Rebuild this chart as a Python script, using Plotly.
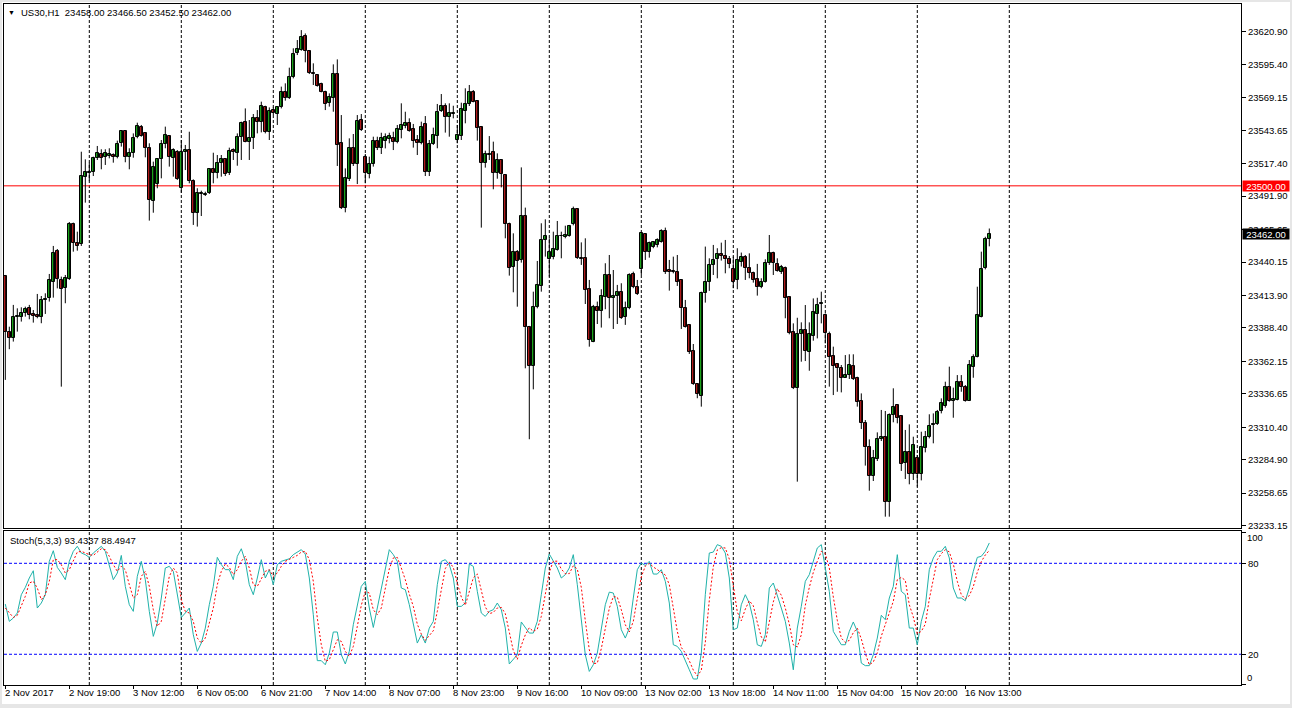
import plotly.graph_objects as go

# ---------------- data ----------------
opens = [
23429.5,23385.0,23380.8,23397.3,23396.8,23399.9,23403.8,23399.4,23398.6,23397.3,
23410.1,23411.7,23424.8,23448.9,23426.1,23419.5,23426.9,23470.0,23455.4,23454.1,
23506.7,23509.8,23510.6,23522.1,23525.0,23522.4,23523.7,23524.2,23522.9,23533.4,
23543.1,23522.9,23525.5,23538.1,23546.5,23541.2,23529.5,23488.4,23501.2,23520.8,
23532.9,23539.1,23521.6,23526.6,23498.6,23526.3,23528.1,23504.1,23478.4,23493.3,
23493.1,23494.1,23513.0,23509.8,23517.7,23520.8,23509.8,23528.1,23526.0,23538.1,
23549.9,23534.2,23537.3,23553.0,23549.9,23561.6,23542.5,23559.5,23556.4,23561.6,
23573.4,23568.7,23585.2,23604.0,23606.6,23617.6,23606.1,23588.9,23587.0,23579.7,
23573.9,23564.8,23569.2,23587.8,23533.4,23482.9,23505.1,23529.4,23516.9,23551.7,
23522.9,23509.3,23517.1,23535.5,23529.4,23535.5,23536.5,23537.3,23534.7,23543.8,
23547.2,23549.1,23544.4,23536.0,23533.4,23548.3,23511.1,23532.9,23539.4,23558.8,
23562.7,23553.8,23556.1,23536.0,23539.1,23559.0,23564.0,23573.4,23566.6,23545.9,
23517.7,23524.2,23526.3,23510.3,23520.3,23508.5,23470.0,23436.5,23448.3,23441.8,
23476.3,23388.9,23358.6,23404.6,23421.6,23457.5,23442.3,23444.4,23449.6,23460.3,
23460.1,23460.6,23469.8,23481.6,23443.1,23443.1,23418.8,23377.7,23404.6,23402.0,
23413.0,23430.0,23411.7,23413.8,23416.4,23397.3,23403.8,23430.8,23420.9,23434.5,
23461.9,23447.8,23452.3,23453.6,23456.2,23464.6,23433.9,23432.6,23432.6,23426.1,
23403.8,23390.8,23370.4,23344.4,23335.3,23415.6,23424.3,23437.9,23442.3,23446.5,
23444.9,23442.3,23434.7,23426.1,23440.5,23443.9,23435.3,23431.3,23426.6,23420.3,
23424.8,23439.2,23447.0,23438.7,23432.6,23435.8,23412.4,23384.9,23341.5,23383.9,
23386.5,23369.8,23382.3,23399.6,23407.4,23398.5,23383.6,23366.4,23359.8,23356.7,
23349.3,23351.4,23358.5,23348.8,23331.0,23313.5,23295.2,23272.4,23285.2,23300.9,
23302.8,23252.0,23320.0,23327.6,23319.0,23282.6,23290.7,23273.4,23286.0,23273.4,
23294.4,23302.8,23312.4,23312.7,23323.4,23327.4,23341.8,23331.3,23332.1,23345.7,
23342.3,23331.3,23358.0,23365.8,23397.2,23435.2,23458.0]

highs = [
23430.0,23389.4,23406.5,23403.8,23404.6,23405.1,23406.5,23402.5,23415.1,23413.5,
23415.6,23430.8,23452.8,23450.4,23428.7,23430.0,23471.6,23471.1,23464.0,23526.8,
23520.8,23518.2,23522.9,23531.3,23528.7,23528.7,23529.5,23525.5,23535.5,23543.8,
23543.8,23529.5,23541.2,23549.6,23547.8,23541.8,23533.4,23519.0,23521.6,23536.0,
23546.5,23539.9,23529.5,23528.1,23536.0,23532.1,23542.5,23505.1,23498.1,23496.2,
23495.4,23513.2,23526.0,23524.2,23524.2,23521.6,23530.0,23529.4,23541.2,23550.4,
23560.8,23551.7,23556.4,23559.5,23566.1,23562.9,23561.6,23561.6,23562.7,23577.9,
23580.5,23592.8,23608.0,23614.5,23622.3,23619.7,23606.6,23596.2,23587.8,23581.0,
23574.7,23572.6,23595.4,23599.3,23555.6,23513.7,23537.3,23540.7,23555.6,23556.4,
23525.0,23522.9,23538.6,23538.6,23541.7,23541.2,23541.7,23542.5,23547.8,23564.8,
23558.2,23553.0,23548.6,23539.9,23550.4,23554.8,23536.0,23545.7,23564.3,23572.1,
23564.8,23564.8,23562.9,23547.8,23565.3,23576.6,23579.2,23575.2,23567.4,23547.0,
23527.6,23539.1,23534.7,23525.5,23520.8,23509.3,23471.1,23462.7,23449.6,23514.5,
23482.9,23390.0,23416.9,23441.0,23470.6,23473.7,23458.8,23464.0,23472.4,23464.0,
23468.7,23469.3,23483.7,23482.4,23455.6,23458.8,23426.1,23406.5,23409.1,23418.8,
23439.2,23445.7,23433.9,23422.2,23423.5,23409.1,23431.3,23432.6,23426.1,23462.9,
23462.7,23456.2,23456.2,23458.8,23465.9,23467.2,23441.8,23444.4,23445.7,23426.6,
23410.4,23391.5,23375.8,23345.0,23416.9,23452.3,23443.1,23453.6,23451.0,23455.4,
23457.5,23444.9,23444.4,23451.0,23447.6,23445.7,23447.0,23432.6,23438.7,23427.4,
23442.3,23461.4,23448.3,23443.1,23437.9,23436.6,23412.9,23392.0,23396.4,23392.8,
23406.4,23392.8,23411.6,23412.1,23416.9,23399.8,23385.5,23373.7,23360.6,23359.3,
23367.1,23367.7,23367.7,23350.1,23337.0,23316.1,23300.9,23292.6,23306.4,23324.0,
23323.2,23321.3,23341.0,23327.9,23320.0,23308.3,23312.7,23303.0,23288.6,23306.9,
23307.5,23320.6,23321.3,23324.0,23333.1,23346.2,23358.0,23341.5,23351.4,23351.4,
23343.6,23363.2,23367.7,23420.8,23448.3,23460.0,23466.5]

lows = [
23347.6,23371.7,23377.7,23385.5,23393.4,23397.3,23395.2,23392.6,23396.0,23392.1,
23399.4,23409.1,23412.2,23419.5,23342.3,23407.8,23426.1,23448.3,23449.1,23452.8,
23486.8,23504.1,23507.7,23520.3,23513.0,23516.4,23521.6,23518.2,23521.6,23530.8,
23518.5,23513.0,23522.1,23537.3,23538.6,23522.4,23472.7,23478.9,23498.1,23505.9,
23529.5,23515.1,23507.2,23504.6,23494.6,23512.4,23502.0,23469.3,23468.0,23476.3,
23492.0,23493.6,23502.0,23505.9,23507.2,23507.7,23508.5,23520.3,23515.8,23520.3,
23534.2,23520.3,23528.9,23541.2,23542.0,23541.2,23536.0,23555.6,23547.8,23560.8,
23566.9,23568.2,23584.4,23602.7,23606.1,23597.0,23587.8,23579.2,23577.9,23573.4,
23559.5,23562.2,23558.2,23515.6,23481.8,23479.2,23503.8,23515.6,23501.4,23543.1,
23502.0,23505.9,23515.1,23528.1,23525.0,23529.4,23533.4,23528.1,23533.4,23537.3,
23545.2,23542.5,23530.0,23524.2,23532.6,23507.7,23507.7,23532.1,23529.5,23558.0,
23541.8,23538.6,23553.0,23533.4,23536.0,23549.1,23562.7,23565.6,23535.5,23467.2,
23514.3,23520.3,23497.3,23505.6,23498.8,23458.8,23429.5,23416.4,23405.1,23439.7,
23356.7,23301.0,23340.2,23403.8,23416.9,23444.4,23428.7,23442.3,23449.1,23443.1,
23458.8,23460.1,23469.0,23442.6,23437.9,23407.2,23373.7,23377.2,23391.5,23388.7,
23403.1,23396.0,23387.6,23391.5,23395.5,23390.8,23403.1,23419.6,23414.3,23430.0,
23441.8,23443.6,23451.0,23451.7,23455.4,23430.8,23417.7,23431.3,23421.4,23387.6,
23388.7,23368.0,23343.7,23333.2,23326.6,23408.3,23417.5,23430.0,23427.4,23441.3,
23431.3,23435.3,23419.6,23418.8,23436.6,23426.1,23427.4,23424.0,23413.8,23419.6,
23424.0,23437.9,23430.0,23432.6,23430.8,23396.0,23383.4,23340.4,23267.7,23361.9,
23362.4,23354.8,23378.4,23380.2,23392.0,23376.3,23342.3,23335.7,23338.3,23337.8,
23349.3,23348.3,23347.5,23326.6,23309.0,23280.3,23260.6,23268.2,23283.9,23299.6,
23240.2,23240.2,23314.3,23313.5,23276.1,23269.8,23265.6,23269.0,23263.8,23268.7,
23290.7,23301.7,23297.8,23312.2,23321.3,23325.8,23330.5,23317.9,23331.5,23338.3,
23330.5,23331.0,23349.3,23365.3,23396.7,23434.4,23452.5]

closes = [
23385.0,23380.3,23397.3,23397.8,23399.9,23403.1,23398.6,23398.1,23396.8,23410.4,
23411.2,23426.1,23447.0,23426.6,23418.8,23427.4,23470.0,23454.9,23453.0,23507.7,
23510.6,23511.1,23521.6,23526.1,23522.1,23525.8,23525.0,23522.4,23532.9,23543.1,
23522.9,23525.5,23537.3,23547.0,23539.4,23529.5,23488.9,23515.1,23520.8,23532.9,
23539.9,23522.4,23528.1,23505.4,23526.3,23528.1,23503.8,23478.4,23494.1,23494.1,
23493.6,23513.0,23509.8,23517.7,23520.8,23509.3,23527.4,23526.3,23538.1,23549.1,
23534.7,23537.3,23553.0,23549.9,23562.7,23542.5,23558.8,23556.9,23562.2,23573.4,
23568.7,23585.2,23603.5,23607.4,23616.6,23606.1,23588.9,23587.5,23578.6,23573.9,
23564.3,23569.5,23587.8,23532.1,23482.9,23505.9,23529.4,23516.9,23550.9,23543.8,
23509.8,23517.1,23535.2,23529.4,23537.3,23538.1,23539.1,23534.7,23544.4,23547.8,
23549.1,23543.3,23535.5,23533.4,23545.9,23511.1,23532.9,23539.9,23558.2,23562.7,
23554.3,23556.9,23556.9,23539.9,23560.1,23564.3,23573.4,23566.1,23545.7,23518.2,
23525.0,23525.0,23509.8,23520.3,23509.0,23469.8,23435.8,23447.8,23441.3,23476.3,
23388.9,23358.8,23404.6,23422.2,23457.2,23460.6,23447.8,23450.2,23460.6,23460.6,
23461.1,23468.5,23481.6,23443.1,23442.8,23418.2,23379.0,23404.6,23402.0,23413.5,
23430.0,23411.7,23413.5,23416.4,23396.3,23404.4,23430.0,23420.9,23415.1,23462.7,
23448.3,23454.9,23455.7,23457.5,23464.6,23432.1,23432.6,23432.3,23424.8,23403.8,
23389.5,23369.8,23344.2,23336.3,23415.6,23424.3,23437.9,23441.8,23446.2,23444.9,
23442.3,23438.4,23424.8,23441.8,23443.9,23435.3,23431.3,23426.1,23420.3,23424.3,
23439.2,23447.0,23439.2,23433.4,23436.6,23411.7,23384.1,23341.5,23383.4,23386.5,
23370.5,23383.4,23400.6,23406.4,23407.9,23384.1,23365.8,23358.8,23357.2,23349.3,
23351.4,23359.3,23348.0,23330.5,23313.5,23295.2,23272.4,23286.0,23300.9,23302.8,
23251.5,23320.0,23326.6,23317.9,23281.8,23290.7,23273.4,23296.5,23273.4,23294.9,
23302.8,23311.7,23313.0,23322.6,23329.2,23341.8,23331.3,23332.6,23345.7,23342.3,
23331.3,23359.3,23365.8,23398.5,23434.4,23457.9,23462.0]

stoch_k = [
53.1,41.7,43.9,47.2,59.3,64.1,70.3,75.1,50.5,53.8,
59.3,81.3,88.3,77.3,73.6,69.2,81.3,87.9,91.2,86.8,
85.7,83.9,86.8,89.0,91.2,87.9,78.0,69.2,73.6,85.2,
64.8,52.7,48.3,71.4,81.3,69.2,48.3,31.8,40.6,57.1,
76.9,78.0,74.7,59.3,44.3,47.2,50.5,32.9,21.9,27.4,
37.3,52.7,64.8,83.9,79.1,75.8,75.8,69.2,84.6,89.6,
81.3,65.9,59.3,70.3,82.4,70.3,75.8,65.9,79.1,81.3,
82.4,83.0,85.7,87.4,89.0,86.1,70.3,46.1,15.8,15.8,
13.1,20.8,34.7,34.7,19.7,13.6,21.9,39.5,52.7,64.8,
68.1,50.5,37.7,50.5,63.7,76.9,89.0,85.7,81.3,63.7,
62.6,52.7,39.5,27.4,32.9,27.4,37.3,41.7,65.9,81.3,
82.4,79.1,70.3,51.6,51.6,53.8,79.5,78.0,61.5,47.2,
45.0,48.3,49.4,53.8,49.4,37.3,13.6,16.4,19.7,41.3,
37.3,34.0,34.0,41.7,59.3,76.9,86.1,81.3,76.9,70.3,
72.5,76.9,85.7,65.9,40.6,19.7,8.7,13.1,20.8,37.3,
52.7,61.0,60.4,51.6,36.2,30.7,37.3,57.1,75.8,80.2,
78.6,81.3,72.9,72.9,75.8,68.1,53.8,26.3,25.2,21.9,
15.3,9.8,3.7,3.7,20.8,59.3,86.8,87.4,92.3,91.2,
86.8,70.3,36.2,37.3,52.7,59.3,53.8,42.8,26.3,25.2,
32.9,63.7,67.0,59.3,50.5,41.7,27.4,9.8,37.3,51.6,
68.1,72.5,81.3,90.1,92.3,76.9,61.5,35.1,30.7,26.3,
26.3,35.1,41.3,35.1,14.2,12.5,12.5,19.7,30.7,45.7,
42.8,57.1,64.8,85.7,61.5,59.3,37.3,37.3,26.3,41.7,
51.6,75.8,83.5,87.9,87.9,91.2,83.5,63.7,57.1,57.1,
55.3,63.7,74.7,83.9,84.6,87.9,93.4]

stoch_d = [
50.5,47.2,44.3,45.7,51.6,58.2,67.0,68.1,63.7,56.0,
59.3,68.1,82.4,82.4,79.1,73.6,75.8,81.3,87.4,87.9,
86.8,85.7,85.2,87.4,89.6,89.0,84.6,79.1,74.7,78.0,
75.8,65.9,57.1,59.3,71.4,74.7,64.8,49.4,38.4,41.7,
57.1,71.4,76.9,73.6,56.0,48.3,47.2,41.7,30.7,27.4,
30.7,40.6,50.5,65.9,74.7,79.5,77.3,72.5,75.8,81.3,
84.6,76.9,65.9,64.8,70.3,74.7,75.8,71.4,73.6,78.0,
81.3,82.4,83.9,85.2,87.4,87.9,82.4,68.1,43.9,26.3,
15.3,16.4,23.0,29.6,28.5,21.9,18.6,25.2,38.4,52.3,
61.5,60.4,49.4,46.1,50.5,63.7,76.4,83.5,83.9,76.9,
69.2,59.7,51.6,39.9,33.3,29.2,32.5,35.5,48.3,63.0,
76.5,80.9,77.3,67.0,57.8,52.3,61.6,70.4,73.0,62.2,
51.2,46.8,47.6,50.5,50.9,46.8,33.4,22.4,16.6,25.8,
32.8,37.5,35.1,36.6,45.0,59.3,74.1,81.4,81.4,76.2,
73.2,73.2,78.4,76.2,64.1,42.1,23.0,13.8,14.2,23.7,
36.9,50.3,58.0,57.7,49.4,39.5,34.7,41.7,56.7,71.0,
78.2,80.0,77.6,75.7,73.9,72.3,65.9,49.4,35.1,24.5,
20.8,15.7,9.6,5.7,9.4,27.9,55.6,77.8,88.8,90.3,
90.1,82.8,64.4,47.9,42.1,49.8,55.3,52.0,41.0,31.4,
28.1,40.6,54.5,63.3,58.9,50.5,39.9,26.3,24.8,32.9,
52.3,64.1,74.0,81.3,87.9,86.4,76.9,57.8,42.4,30.7,
27.8,29.2,34.2,37.2,30.2,20.6,13.1,14.9,21.0,32.0,
39.7,48.5,54.9,69.2,70.7,68.8,52.7,44.6,33.6,35.1,
39.9,56.4,70.3,82.4,86.4,89.0,87.5,79.5,68.1,59.3,
56.5,58.7,64.6,74.1,81.1,85.5,88.5]

time_labels = ["2 Nov 2017", "2 Nov 19:00", "3 Nov 12:00", "6 Nov 05:00", "6 Nov 21:00",
               "7 Nov 14:00", "8 Nov 07:00", "8 Nov 23:00", "9 Nov 16:00", "10 Nov 09:00",
               "13 Nov 02:00", "13 Nov 18:00", "14 Nov 11:00", "15 Nov 04:00",
               "15 Nov 20:00", "16 Nov 13:00"]

price_ticks = [23620.90, 23595.40, 23569.15, 23543.65, 23517.40, 23491.90, 23465.65,
               23440.15, 23413.90, 23388.40, 23362.15, 23336.65, 23310.40, 23284.90,
               23258.65, 23233.15]
stoch_levels = [80, 20]
level_line_price = 23500.00
bid_price = 23462.00
title_text = "US30,H1  23458.00 23466.50 23452.50 23462.00"
stoch_title = "Stoch(5,3,3) 93.4337 88.4947"

# ---------------- figure ----------------
W, H = 1292, 708
ML, MR, MT, MB = 4, 51, 4, 23
N = len(opens)
idx = list(range(N))
BARS_PER_LABEL = 16
BARS_PER_GRID = 23
GRID_START = 21
GRID_COUNT = 11

GREEN = "#22cc22"
RED = "#dd2222"
FONT = "Liberation Sans, Arial, sans-serif"

fig = go.Figure()

# wicks
wx, wy = [], []
for i in idx:
    wx += [i, i, None]
    wy += [lows[i], highs[i], None]
fig.add_trace(go.Scatter(x=wx, y=wy, mode="lines", line=dict(color="black", width=1),
                         hoverinfo="skip", showlegend=False, xaxis="x", yaxis="y"))

# bodies
for up, col in ((True, GREEN), (False, RED)):
    sel = [i for i in idx if (closes[i] >= opens[i]) == up]
    fig.add_trace(go.Bar(
        x=sel,
        base=[min(opens[i], closes[i]) for i in sel],
        y=[max(abs(closes[i] - opens[i]), 0.6) for i in sel],
        width=0.62,
        marker=dict(color=col, line=dict(color="black", width=1)),
        showlegend=False, hoverinfo="skip", xaxis="x", yaxis="y"))

# stochastic
fig.add_trace(go.Scatter(x=idx, y=stoch_k, mode="lines", line=dict(color="#20b2aa", width=1),
                         showlegend=False, xaxis="x2", yaxis="y2"))
fig.add_trace(go.Scatter(x=idx, y=stoch_d, mode="lines",
                         line=dict(color="#ff0000", width=1, dash="2px,2px"),
                         showlegend=False, xaxis="x2", yaxis="y2"))

plot_h = H - MT - MB
main_bottom_px, stoch_top_px = 528, 531
main_dom = [(H - MB - main_bottom_px) / plot_h, 1]
stoch_dom = [0, (H - MB - stoch_top_px) / plot_h]

x0 = -(5.3 - ML) / 4.0
x1 = x0 + (W - ML - MR) / 4.0

tickfont = dict(family=FONT, size=9.5, color="black")

fig.update_layout(
    width=W, height=H,
    margin=dict(l=ML, r=MR, t=MT, b=MB),
    paper_bgcolor="white", plot_bgcolor="white",
    barmode="overlay", bargap=0,
    showlegend=False,
    xaxis=dict(domain=[0, 1], range=[x0, x1], anchor="y", showticklabels=False,
               showgrid=False, zeroline=False, showline=True, linecolor="black",
               linewidth=1, mirror=True, ticks=""),
    yaxis=dict(domain=main_dom, range=[23231.3, 23642.8], side="right", anchor="x",
               tickvals=price_ticks, ticktext=[f"{v:.2f}" for v in price_ticks],
               ticks="outside", ticklen=4, tickcolor="black", tickfont=tickfont,
               showgrid=False, zeroline=False, showline=True, linecolor="black",
               linewidth=1, mirror=True),
    xaxis2=dict(domain=[0, 1], range=[x0, x1], anchor="y2", matches="x",
                tickvals=[k * BARS_PER_LABEL for k in range(len(time_labels))],
                showticklabels=False, ticks="outside", ticklen=3, tickcolor="black",
                showgrid=False, zeroline=False, showline=True, linecolor="black",
                linewidth=1, mirror=True),
    yaxis2=dict(domain=stoch_dom, range=[-0.26, 101.3], side="right", anchor="x2",
                tickvals=[100] + stoch_levels + [0], ticktext=["", "80", "20", ""],
                ticks="outside", ticklen=4, tickcolor="black", tickfont=tickfont,
                showgrid=False, zeroline=False, showline=True, linecolor="black",
                linewidth=1, mirror=True),
)

shapes = []
# vertical dashed grid
for k in range(GRID_COUNT):
    g = GRID_START + k * BARS_PER_GRID
    for yr in ("y domain", "y2 domain"):
        shapes.append(dict(type="line", xref="x", yref=yr, x0=g, x1=g, y0=0, y1=1,
                           line=dict(color="black", width=1, dash="3px,2px"), layer="below"))
# stoch levels
for lv in stoch_levels:
    shapes.append(dict(type="line", xref="x2 domain", yref="y2", x0=0, x1=1, y0=lv, y1=lv,
                       line=dict(color="#0000ff", width=1, dash="3px,2px"), layer="below"))
# 23500 level line
shapes.append(dict(type="line", xref="x domain", yref="y", x0=0, x1=1,
                   y0=level_line_price, y1=level_line_price,
                   line=dict(color="#ff0000", width=1), layer="below"))
# window frame strips
pw = W - ML - MR
def px_x(p):
    return (p - ML) / pw
def px_y(p):
    return (H - MB - p) / plot_h
for (a, b, c, d) in ((0, 0, 2, H), (W - 2, 0, W, H), (0, H - 4, W, H), (0, 0, W, 2)):
    shapes.append(dict(type="rect", xref="paper", yref="paper",
                       x0=px_x(a), x1=px_x(c), y0=px_y(d), y1=px_y(b),
                       fillcolor="#e6e6e6", line=dict(width=0), layer="above"))
fig.update_layout(shapes=shapes)

ann = []
# time labels
for k, lab in enumerate(time_labels):
    ann.append(dict(text=lab, x=k * BARS_PER_LABEL, xref="x2", y=0, yref="paper",
                    xanchor="left", yanchor="top", xshift=-1, yshift=-1, showarrow=False,
                    font=tickfont, borderpad=0))
# title
ann.append(dict(text="▼", x=0, xref="paper", y=1, yref="paper", xanchor="left",
                yanchor="middle", xshift=3, yshift=-8, showarrow=False,
                font=dict(family=FONT, size=7, color="black"), borderpad=0))
ann.append(dict(text=title_text, x=0, xref="paper", y=1, yref="paper", xanchor="left",
                yanchor="middle", xshift=16, yshift=-8, showarrow=False,
                font=tickfont, borderpad=0))
ann.append(dict(text=stoch_title, x=0, xref="paper", y=1, yref="y2 domain", xanchor="left",
                yanchor="middle", xshift=5, yshift=-9, showarrow=False,
                font=tickfont, borderpad=0))
# stoch 100 / 0 labels
ann.append(dict(text="100", x=1, xref="paper", y=96.7, yref="y2", xanchor="left",
                yanchor="middle", xshift=5, showarrow=False, font=tickfont, borderpad=0))
ann.append(dict(text="0", x=1, xref="paper", y=4.4, yref="y2", xanchor="left",
                yanchor="middle", xshift=5, showarrow=False, font=tickfont, borderpad=0))
# price boxes
for val, bg in ((level_line_price, "#ff0000"), (bid_price, "#000000")):
    ann.append(dict(text=f"{val:.2f}", x=1, xref="paper", y=val, yref="y", xanchor="left",
                    yanchor="middle", xshift=1, showarrow=False, bgcolor=bg,
                    font=dict(family=FONT, size=9.5, color="white"),
                    width=46, height=10, borderpad=0, align="center", valign="middle"))
fig.update_layout(annotations=ann)

fig.write_html("out.html", config={"displayModeBar": False},
               post_script="document.body.style.margin='0';document.body.style.overflow='hidden';")
